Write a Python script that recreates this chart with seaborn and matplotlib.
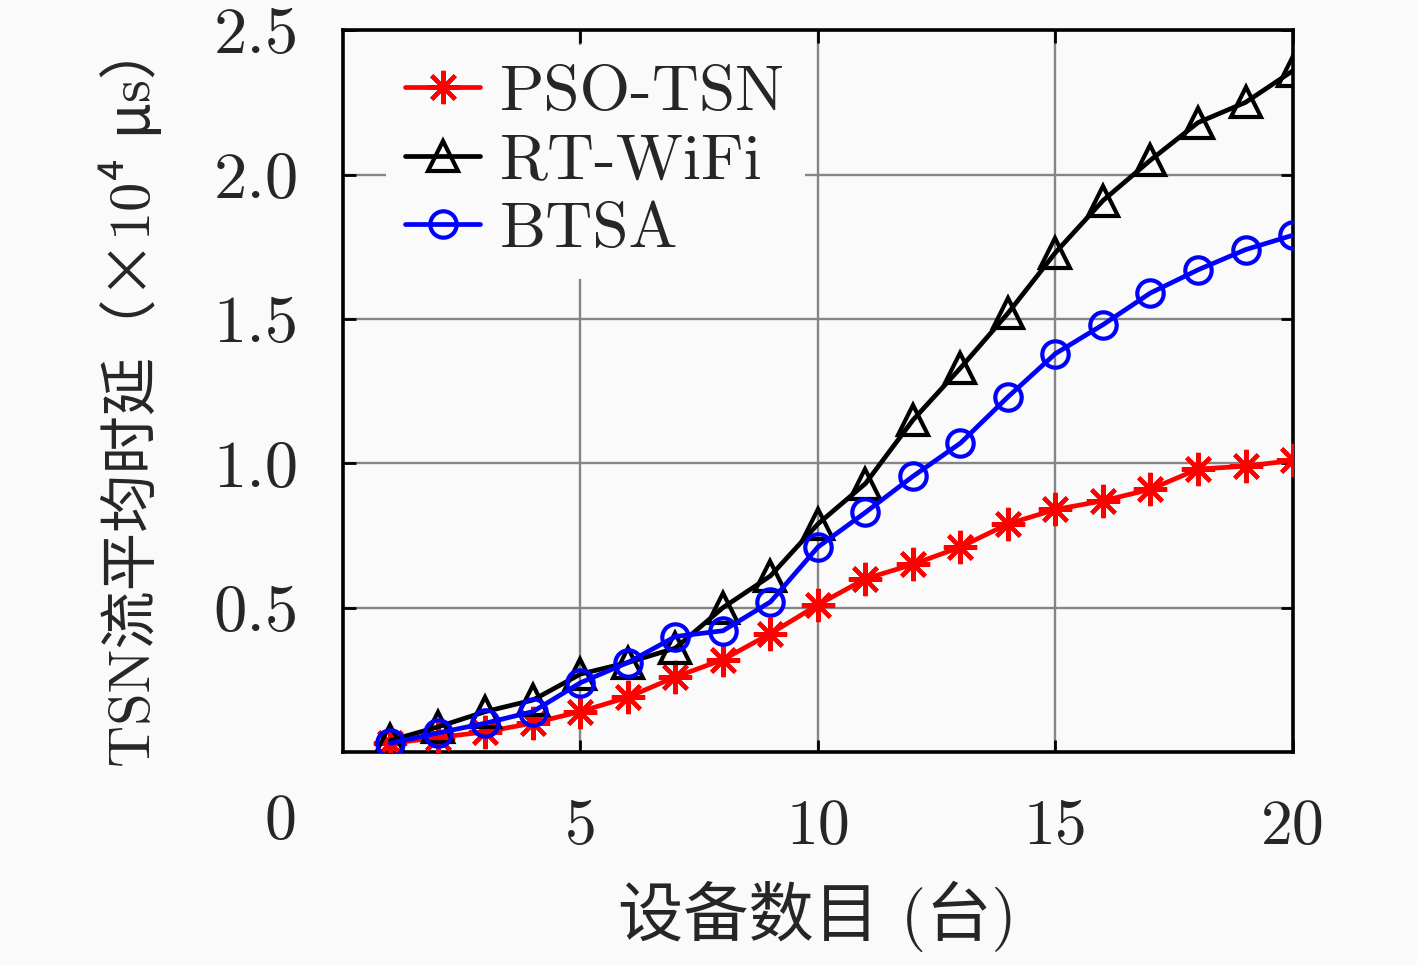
import matplotlib
matplotlib.use('Agg')
import matplotlib.pyplot as plt
import seaborn as sns
import pandas as pd

# device count vs. average TSN flow delay (x10^4 us)
devices = list(range(1, 21))
pso_tsn = [0.03, 0.05, 0.07, 0.10, 0.14, 0.19, 0.26, 0.32, 0.41, 0.51,
           0.60, 0.65, 0.71, 0.79, 0.84, 0.87, 0.91, 0.98, 0.99, 1.01]
rt_wifi = [0.04, 0.087, 0.14, 0.18, 0.27, 0.31, 0.36, 0.50, 0.61, 0.79,
           0.93, 1.15, 1.33, 1.52, 1.73, 1.91, 2.05, 2.18, 2.25, 2.36]
btsa = [0.03, 0.066, 0.10, 0.14, 0.24, 0.31, 0.40, 0.42, 0.52, 0.71,
        0.83, 0.955, 1.07, 1.23, 1.38, 1.48, 1.59, 1.67, 1.74, 1.79]

x_ticks = [5, 10, 15, 20]
y_ticks = [0.5, 1.0, 1.5, 2.0, 2.5]

sns.set_style('ticks')
plt.rcParams['font.family'] = ['cmr10', 'Noto Sans CJK SC', 'DejaVu Sans']
plt.rcParams['axes.unicode_minus'] = False

bg = '#fafafa'
fig = plt.figure(figsize=(14.17, 9.65), dpi=100, facecolor=bg)
ax = fig.add_axes([0.242, 0.2207, 0.6705, 0.748])
ax.set_facecolor(bg)

df = pd.DataFrame({'x': devices, 'PSO-TSN': pso_tsn,
                   'RT-WiFi': rt_wifi, 'BTSA': btsa})

lw = 3.4
sns.lineplot(data=df, x='x', y='PSO-TSN', ax=ax, color='#ff0000', linewidth=lw,
             marker=(8, 2, 0), markersize=24, markeredgewidth=3.0,
             markeredgecolor='#ff0000', label='PSO-TSN', zorder=3)
sns.lineplot(data=df, x='x', y='RT-WiFi', ax=ax, color='black', linewidth=lw,
             marker='^', markersize=21, markeredgewidth=3.0,
             markerfacecolor='none', markeredgecolor='black',
             label='RT-WiFi', zorder=3)
sns.lineplot(data=df, x='x', y='BTSA', ax=ax, color='#0000ff', linewidth=lw,
             marker='o', markersize=19, markeredgewidth=3.0,
             markerfacecolor='none', markeredgecolor='#0000ff',
             label='BTSA', zorder=3)

ax.set_xlim(0, 20)
ax.set_ylim(0, 2.5)
ax.set_xticks(x_ticks)
ax.set_yticks(y_ticks)
ax.set_xticklabels([str(t) for t in x_ticks])
ax.set_yticklabels(['%.1f' % t for t in y_ticks])
ax.grid(True, color='#858585', lw=1.7)
ax.set_axisbelow(True)

ax.tick_params(axis='both', direction='in', length=9, width=2,
               top=True, right=True, color='black')
ax.tick_params(axis='x', pad=34, labelsize=46)
ax.tick_params(axis='y', pad=32, labelsize=48)
for s in ax.spines.values():
    s.set_linewidth(2.6)
    s.set_color('black')

ax.set_xlabel('')
ax.set_ylabel('')
fig.text(280 / 1417, 1 - 823 / 965, '0', fontsize=46, ha='center', va='center')
fig.text(0.577, 0.05, '设备数目 (台)', fontsize=47, ha='center', va='center')
fig.text(0.092, 0.592, 'TSN流平均时延（×10⁴ μs）', fontsize=42,
         rotation=90, ha='center', va='center')

leg = ax.legend(loc='upper left', bbox_to_anchor=(0.045, 0.98), fontsize=47,
                handlelength=1.15, handletextpad=0.3, labelspacing=0.15,
                borderpad=0.3, borderaxespad=0, frameon=True, fancybox=False)
leg.get_frame().set_facecolor(bg)
leg.get_frame().set_edgecolor('none')
leg.get_frame().set_alpha(1)

fig.savefig('out.png', dpi=100, facecolor=bg)
